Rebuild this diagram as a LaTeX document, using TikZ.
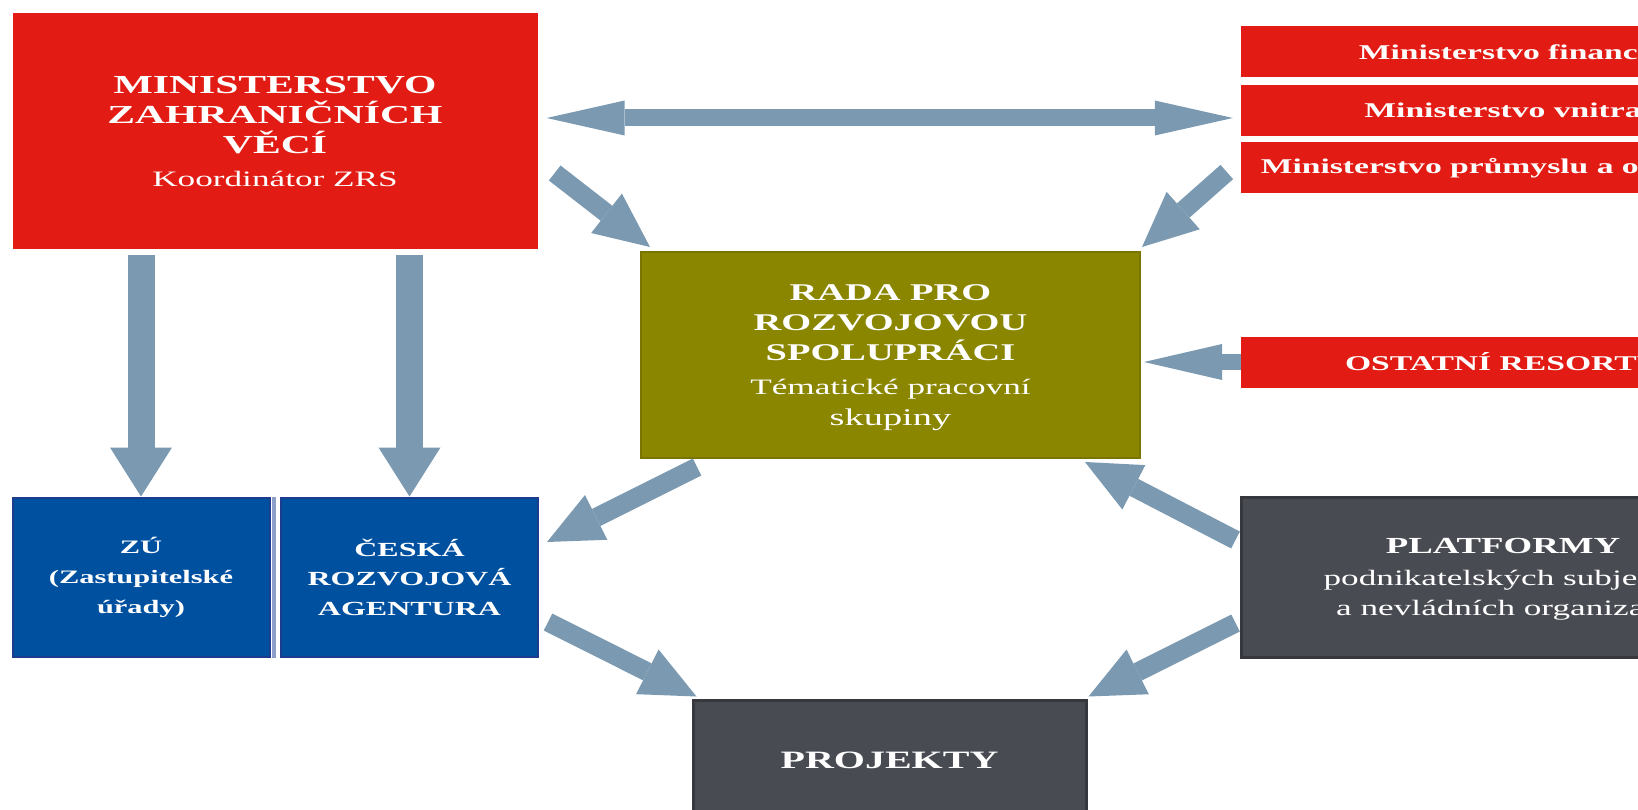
\documentclass[tikz,border=0pt]{standalone}
\usepackage{fontspec}
\newfontfamily\boxfont[FakeStretch=1.6]{Liberation Serif}
\usetikzlibrary{arrows.meta}
\definecolor{mzvred}{HTML}{E21C14}
\definecolor{radaolive}{HTML}{8A8600}
\definecolor{radaedge}{HTML}{7A7400}
\definecolor{zrsblue}{HTML}{0050A0}
\definecolor{zrsedge}{HTML}{1C3C8E}
\definecolor{gapblue}{HTML}{8E9ECB}
\definecolor{platgray}{HTML}{494B52}
\definecolor{platedge}{HTML}{36383E}
\definecolor{arrowblue}{HTML}{7B9AB1}
\tikzset{
  box/.style={rectangle, inner sep=0pt, text=white, align=center},
  redbox/.style={box, fill=mzvred},
  strip/.style={redbox, minimum width=524pt, minimum height=51pt,
    font=\boxfont\bfseries\fontsize{21}{25}\selectfont},
  olivebox/.style={box, fill=radaolive, draw=radaedge, line width=2pt},
  bluebox/.style={box, fill=zrsblue, draw=zrsedge, line width=2pt,
    minimum width=257pt, minimum height=159pt},
  darkbox/.style={box, fill=platgray, draw=platedge, line width=3pt},
  downarrow/.style={draw=arrowblue, line width=27pt,
    -{Triangle[length=49pt, width=62pt, line width=0pt]}},
  slantarrow/.style={draw=arrowblue, line width=19pt,
    -{Triangle[length=55pt, width=50pt, line width=0pt]}},
  longarrow/.style={draw=arrowblue, line width=16pt,
    -{Triangle[length=78pt, width=36pt, line width=0pt]}},
  twoarrow/.style={draw=arrowblue, line width=17pt,
    {Triangle[length=78pt, width=35pt, line width=0pt]}-{Triangle[length=78pt, width=35pt, line width=0pt]}},
}
\begin{document}
\begin{tikzpicture}[x=1pt, y=-1pt]
\useasboundingbox (0,0) rectangle (1638,810);
\clip (0,0) rectangle (1638,810);
% boxes
\node[redbox, minimum width=525pt, minimum height=236pt, text depth=-6.5pt,
  font=\boxfont\fontsize{26}{30}\selectfont] (mzv) at (275,131)
  {\bfseries MINISTERSTVO\\\bfseries ZAHRANIČNÍCH\\\bfseries VĚCÍ\\[3pt]
   \fontsize{22}{30}\selectfont Koordinátor ZRS};
\node[strip] (mf1) at (1503,52) {Ministerstvo financí};
\node[strip] (mf2) at (1503,110.5) {Ministerstvo vnitra};
\node[strip] (mf3) at (1503,168) {Ministerstvo průmyslu a obchodu};
\node[strip] (ostatni) at (1503,362) {OSTATNÍ RESORTY};
\node[olivebox, minimum width=499pt, minimum height=206pt, text depth=-10pt,
  font=\boxfont\fontsize{24}{30}\selectfont] (rada) at (890.5,355)
  {\bfseries RADA PRO\\\bfseries ROZVOJOVOU\\\bfseries SPOLUPRÁCI\\[4pt]
   \fontsize{22}{30}\selectfont Tématické pracovní\\[1pt] skupiny};
\node[bluebox, font=\boxfont\bfseries\fontsize{19}{30}\selectfont] (zu) at (141,577)
  {ZÚ\\(Zastupitelské\\úřady)};
\node[bluebox, font=\boxfont\bfseries\fontsize{20}{29.5}\selectfont] (cra) at (409.5,577)
  {ČESKÁ\\ROZVOJOVÁ\\AGENTURA};
\fill[gapblue] ([xshift=1pt]zu.north east) rectangle ([xshift=5pt]zu.south east);
\node[darkbox, minimum width=524pt, minimum height=160pt, text depth=-6pt,
  font=\boxfont\fontsize{22}{30}\selectfont] (platformy) at (1503,577)
  {\bfseries\fontsize{23}{30}\selectfont PLATFORMY\\[2pt]
   \fontsize{22}{30}\selectfont podnikatelských subjektů\\a nevládních organizací};
\node[darkbox, minimum width=393pt, minimum height=120pt,
  font=\boxfont\bfseries\fontsize{25}{30}\selectfont] (projekty) at (889.5,760)
  {PROJEKTY};
% arrows
\draw[twoarrow] ([xshift=9pt, yshift=13pt]mzv.east) -- ([xshift=-8pt, yshift=-7.5pt]mf2.west);
\draw[slantarrow] ([xshift=17pt, yshift=-42pt]mzv.east) -- ([xshift=10pt, yshift=4pt]rada.north west);
\draw[slantarrow] ([xshift=-14pt, yshift=-4pt]mf3.west) -- ([xshift=1pt, yshift=4pt]rada.north east);
\draw[longarrow] (ostatni.west) -- ([xshift=3pt]rada.east |- ostatni.west);
\draw[downarrow] ([yshift=-6pt]zu.north |- mzv.south) -- (zu.north);
\draw[downarrow] ([yshift=-6pt]cra.north |- mzv.south) -- (cra.north);
\draw[slantarrow] ([xshift=57pt, yshift=-8pt]rada.south west) -- ([xshift=8pt, yshift=35pt]cra.east);
\draw[slantarrow] ([xshift=-4pt, yshift=37pt]platformy.west) -- ([xshift=-56pt, yshift=-3pt]rada.south east);
\draw[slantarrow] ([xshift=9pt, yshift=-45pt]cra.east) -- ([xshift=5pt, yshift=2pt]projekty.north west);
\draw[slantarrow] ([xshift=-4pt, yshift=-46pt]platformy.west) -- ([xshift=1pt, yshift=2pt]projekty.north east);
\end{tikzpicture}
\end{document}
